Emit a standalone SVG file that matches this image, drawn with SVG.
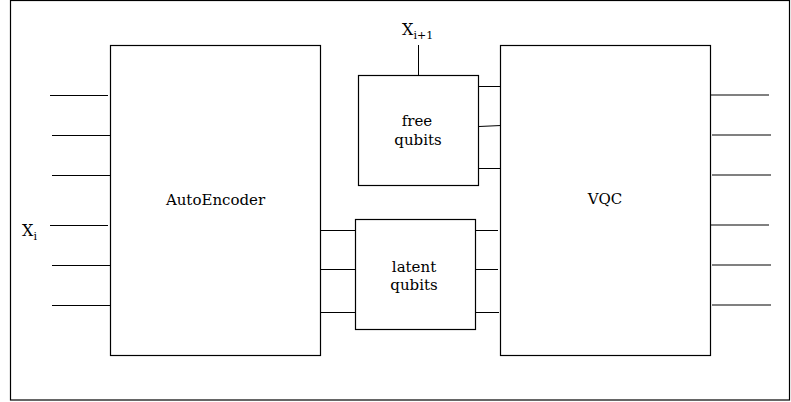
<svg xmlns="http://www.w3.org/2000/svg" width="791" height="402" viewBox="0 0 791 402">
  <style>
    .box { fill: #fff; stroke: #000; stroke-width: 1.2; }
    .wire { stroke: #000; stroke-width: 1; fill: none; }
    .out { stroke: #808080; stroke-width: 2; fill: none; }
    text { font-family: "DejaVu Serif", "Liberation Serif", serif; font-size: 15px; fill: #000; }
    .c { text-anchor: middle; }
    .var { font-size: 16px; }
    .sub { font-size: 11px; }
  </style>

  <!-- outer frame -->
  <rect x="10.5" y="0.5" width="779" height="399.5" fill="#fff" stroke="#000" stroke-width="1.2"/>

  <g id="connectors">
    <!-- inputs into the encoder -->
    <line class="wire" x1="50" y1="95.5" x2="108" y2="95.5"/>
    <line class="wire" x1="52" y1="135.5" x2="110" y2="135.5"/>
    <line class="wire" x1="52" y1="175.5" x2="110" y2="175.5"/>
    <line class="wire" x1="50" y1="225.5" x2="108" y2="225.5" stroke="#666"/>
    <line class="wire" x1="52" y1="265.5" x2="110" y2="265.5"/>
    <line class="wire" x1="52" y1="305.5" x2="110" y2="305.5"/>

    <!-- encoder to latent qubits -->
    <line class="wire" x1="319" y1="230.5" x2="355" y2="230.5"/>
    <line class="wire" x1="317" y1="269.5" x2="355" y2="269.5" stroke="#555"/>
    <line class="wire" x1="319" y1="312.5" x2="355" y2="312.5"/>

    <!-- latent qubits to VQC -->
    <line class="wire" x1="476" y1="230.5" x2="498" y2="230.5"/>
    <line class="wire" x1="476" y1="269.5" x2="498" y2="269.5" stroke="#555"/>
    <line class="wire" x1="476" y1="312.5" x2="499" y2="312.5"/>

    <!-- free qubits to VQC -->
    <line class="wire" x1="479" y1="86.5" x2="500" y2="86.5"/>
    <line class="wire" x1="479" y1="126.5" x2="501" y2="125.5"/>
    <line class="wire" x1="479" y1="168.5" x2="502" y2="168.5"/>

    <!-- next sample into free qubits -->
    <line class="wire" x1="418.5" y1="45" x2="418.5" y2="75"/>

    <!-- VQC outputs -->
    <line class="out" x1="711" y1="95" x2="769" y2="95"/>
    <line class="out" x1="712" y1="135" x2="771" y2="135"/>
    <line class="out" x1="712" y1="175" x2="771" y2="175"/>
    <line class="out" x1="711" y1="225" x2="769" y2="225"/>
    <line class="out" x1="712" y1="265" x2="771" y2="265"/>
    <line class="out" x1="712" y1="305" x2="771" y2="305"/>
  </g>

  <g id="autoencoder">
    <rect class="box" x="110.5" y="45.5" width="210" height="310"/>
    <text class="c" x="215.5" y="205">AutoEncoder</text>
  </g>

  <g id="free-qubits">
    <rect class="box" x="358.5" y="75.5" width="120" height="110"/>
    <text class="c" x="417" y="126">free</text>
    <text class="c" x="418" y="145">qubits</text>
  </g>

  <g id="latent-qubits">
    <rect class="box" x="355.5" y="219.5" width="120" height="110"/>
    <text class="c" x="414" y="271.5">latent</text>
    <text class="c" x="414" y="290">qubits</text>
  </g>

  <g id="vqc">
    <rect class="box" x="500.5" y="45.5" width="210" height="310"/>
    <text class="c" x="605" y="204">VQC</text>
  </g>

  <g id="label-xi">
    <text class="var" x="22" y="236">X<tspan class="sub" dy="4">i</tspan></text>
  </g>

  <g id="label-xi1">
    <text class="var" x="402" y="35">X<tspan class="sub" dy="4">i+1</tspan></text>
  </g>
</svg>
